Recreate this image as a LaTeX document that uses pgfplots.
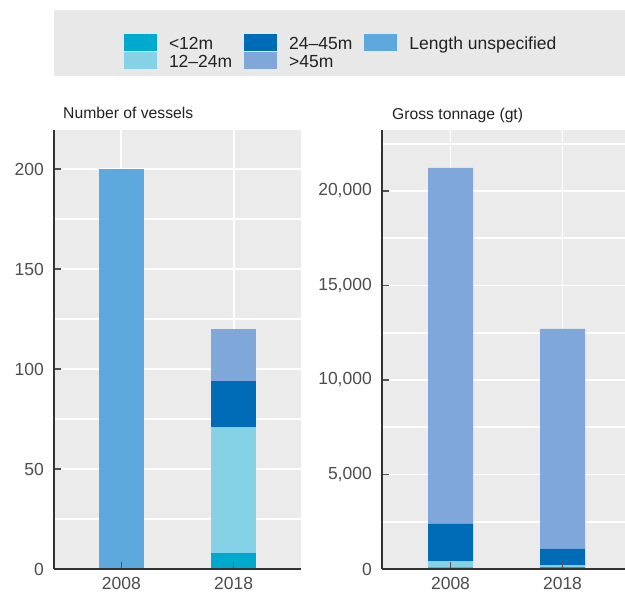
\documentclass[border=0pt]{standalone}
\usepackage{fontspec}
\setmainfont{Liberation Sans}
\usepackage{pgfplots}
\pgfplotsset{compat=1.18}
\definecolor{cA}{HTML}{00A9CE}
\definecolor{cB}{HTML}{85D1E5}
\definecolor{cC}{HTML}{006BB6}
\definecolor{cD}{HTML}{7FA7D9}
\definecolor{cE}{HTML}{5DA8DD}
\definecolor{bgc}{HTML}{EBEBEB}
\definecolor{legbg}{HTML}{E8E8E8}
\definecolor{axc}{HTML}{333333}
\definecolor{labc}{HTML}{4D4D4D}
\definecolor{titc}{HTML}{222222}
\pgfplotsset{
 layers/barsunder/.define layer set={axis background,axis grid,pre main,main,axis ticks,axis lines,axis tick labels,axis descriptions,axis foreground}{
  grid style={/pgfplots/on layer=axis grid},
  tick style={/pgfplots/on layer=axis ticks},
  axis line style={/pgfplots/on layer=axis lines},
  label style={/pgfplots/on layer=axis descriptions},
  legend style={/pgfplots/on layer=axis descriptions},
  title style={/pgfplots/on layer=axis descriptions},
  colorbar style={/pgfplots/on layer=axis descriptions},
  ticklabel style={/pgfplots/on layer=axis tick labels},
  axis background@ style={/pgfplots/on layer=axis background},
  3d box foreground style={/pgfplots/on layer=axis foreground},
 },
 sw/.style={fill=#1, draw=none, legend image code/.code={\fill[##1] (0bp,-8.5bp) rectangle (33bp,8.5bp);}},
 panel/.style={
  set layers=barsunder,
  scale only axis, height=439bp,
  ybar stacked, bar width=45bp,
  axis x line*=bottom, axis y line*=left,
  axis background/.style={fill=bgc},
  grid=both,
  major grid style={draw=white, line width=1.8bp},
  minor grid style={draw=white, line width=1.8bp},
  minor tick length=0pt,
  xtick={0,1}, xticklabels={2008,2018},
  tick align=inside, major tick length=7bp,
  tick style={draw=axc!85, line width=1.1bp},
  axis line style={-, draw=axc, line width=1.4bp},
  ticklabel style={font=\fontsize{17.5bp}{20bp}\selectfont, text=labc, inner sep=0pt},
  xticklabel style={anchor=north, yshift=-8bp},
  yticklabel style={anchor=east, xshift=-10bp},
  /pgf/number format/assume math mode=true,
  enlargelimits=false,
  ymin=0,
 },
}
\begin{document}
\begin{tikzpicture}
\fill[legbg] (54bp,517bp) rectangle (625bp,583bp);
\begin{axis}[panel,
  at={(54bp,24bp)}, anchor=south west, width=247bp,
  xmin=-0.6, xmax=1.6, ymax=219.5,
  ytick={0,50,100,150,200}, minor ytick={25,75,125,175},
  legend columns=2, transpose legend,
  legend style={at={(0.2834,1.2187)}, anchor=north west, draw=none, fill=none,
    inner sep=0pt, outer sep=0pt, row sep=1bp, column sep=0pt,
    font=\fontsize{17.5bp}{20bp}\selectfont, text=titc,
    nodes={inner xsep=12bp, inner ysep=0pt, text height=16bp, text depth=1bp}},
  legend cell align=left,
]
\addplot[sw=cA] coordinates {(0,0) (1,8)};
\addplot[sw=cB] coordinates {(0,0) (1,63)};
\addplot[sw=cC] coordinates {(0,0) (1,23)};
\addplot[sw=cD] coordinates {(0,0) (1,26)};
\addplot[sw=cE] coordinates {(0,200) (1,0)};
\legend{<12m, 12–24m, 24–45m, >45m, Length unspecified}
\end{axis}
\begin{axis}[panel,
  at={(382bp,24bp)}, anchor=south west, width=243bp,
  xmin=-0.6116, xmax=1.558, ymax=23228,
  ytick={0,5000,10000,15000,20000}, minor ytick={2500,7500,12500,17500,22500},
  scaled y ticks=false,
  /pgf/number format/1000 sep={,},
]
\addplot[sw=cA] coordinates {(0,90) (1,100)};
\addplot[sw=cB] coordinates {(0,330) (1,90)};
\addplot[sw=cC] coordinates {(0,1965) (1,870)};
\addplot[sw=cD] coordinates {(0,18835) (1,11640)};
\addplot[sw=cE] coordinates {(0,0) (1,0)};
\end{axis}
\node[anchor=base west, inner sep=0pt, font=\fontsize{15.7bp}{18bp}\selectfont, text=titc] at (63bp,474bp) {Number of vessels};
\node[anchor=base west, inner sep=0pt, font=\fontsize{15.7bp}{18bp}\selectfont, text=titc] at (392bp,473bp) {Gross tonnage (gt)};
\pgfresetboundingbox
\path (0bp,0bp) rectangle (625bp,593bp);
\end{tikzpicture}
\end{document}
